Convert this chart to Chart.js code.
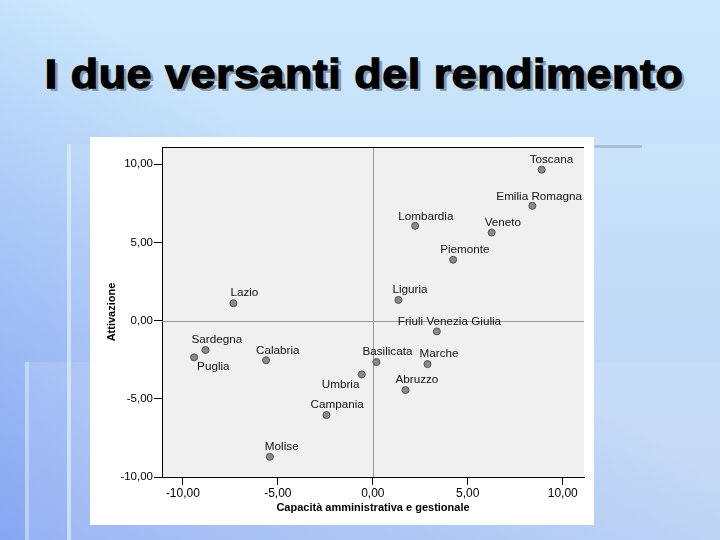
<!DOCTYPE html>
<html>
<head>
<meta charset="utf-8">
<script src="https://cdn.jsdelivr.net/npm/chart.js@4.4.0/dist/chart.umd.min.js"></script>
<style>
body { margin: 0; }
#slide {
	position: relative; width: 720px; height: 540px; overflow: hidden;
	background:
		linear-gradient(to top right, rgba(100,135,240,0.55) 0%, rgba(100,135,240,0) 55%),
		linear-gradient(#cbe8fc, #b3cef4);
}
#title {
	position: absolute; left: 0; top: 54px; width: 728px; text-align: center;
	font: bold 40px "Liberation Sans", Arial, sans-serif; line-height: 40px;
	letter-spacing: 0.5px; color: #000;
	-webkit-text-stroke: 1.3px #000;
	transform: scaleX(1.12); transform-origin: 364px 0;
	text-shadow: 3px 3px 0 #8a98a8;
}
.deco { position: absolute; }
#box { position: absolute; left: 90px; top: 137px; width: 504px; height: 388px; background: #fff; }
</style>
</head>
<body>
<div id="slide">
	<div class="deco" style="left:71px;top:144px;right:0;bottom:0;background:rgba(255,255,255,0.07)"></div>
	<div class="deco" style="left:67px;top:144px;width:4px;bottom:0;background:rgba(225,242,250,0.65)"></div>
	<div class="deco" style="left:25px;top:362px;right:0;bottom:0;background:rgba(255,255,255,0.12)"></div>
	<div class="deco" style="left:25px;top:362px;width:4px;bottom:0;background:rgba(225,242,250,0.45)"></div>
	<div class="deco" style="left:594px;top:145px;width:48px;height:3px;background:#a8c2d2"></div>
	<div id="title">I due versanti del rendimento</div>
	<div id="box"><canvas id="myChart" width="504" height="388"></canvas></div>
</div>
<script>
var regions = ["Toscana", "Emilia Romagna", "Lombardia", "Veneto", "Piemonte", "Liguria", "Lazio",
	"Friuli Venezia Giulia", "Sardegna", "Puglia", "Calabria", "Basilicata", "Marche", "Umbria",
	"Abruzzo", "Campania", "Molise"];
var capacita = [8.89, 8.40, 2.23, 6.26, 4.23, 1.35, -7.34, 3.37, -8.81, -9.41, -5.62, 0.19, 2.88, -0.58, 1.72, -2.44, -5.42];
var attivazione = [9.65, 7.34, 6.06, 5.63, 3.89, 1.32, 1.11, -0.69, -1.88, -2.35, -2.54, -2.65, -2.78, -3.44, -4.44, -6.04, -8.71];
var xTicks = [-10, -5, 0, 5, 10];
var yTicks = [-10, -5, 0, 5, 10];

// where each name sits relative to its dot (left edge, middle), like the SPSS output
var labelOffset = {
	"Toscana": [-12, -10], "Emilia Romagna": [-36, -9], "Lombardia": [-17, -9], "Veneto": [-7, -10],
	"Piemonte": [-13, -10], "Liguria": [-6, -10], "Lazio": [-3, -10], "Friuli Venezia Giulia": [-39, -10],
	"Sardegna": [-14, -10], "Puglia": [3, 9], "Calabria": [-10, -10], "Basilicata": [-14, -10],
	"Marche": [-8, -10], "Umbria": [-40, 10], "Abruzzo": [-10, -10], "Campania": [-16, -10], "Molise": [-5, -10]
};

var points = [];
for (var i = 0; i < regions.length; i++) {
	points.push({x: capacita[i], y: attivazione[i]});
}

function fmt(v) {
	return v.toFixed(2).replace('.', ',');
}

var spssPlugin = {
	id: 'spss',
	beforeDraw: function(chart) {
		var a = chart.chartArea, ctx = chart.ctx;
		ctx.save();
		ctx.fillStyle = '#f0f0f0';
		ctx.fillRect(a.left, a.top, a.right - a.left, a.bottom - a.top);
		ctx.restore();
	},
	beforeDatasetsDraw: function(chart) {
		var a = chart.chartArea, ctx = chart.ctx;
		var x0 = Math.round(chart.scales.x.getPixelForValue(0)) + 0.5;
		var y0 = Math.round(chart.scales.y.getPixelForValue(0)) + 0.5;
		ctx.save();
		ctx.strokeStyle = '#999';
		ctx.lineWidth = 1;
		ctx.beginPath();
		ctx.moveTo(x0, a.top); ctx.lineTo(x0, a.bottom);
		ctx.moveTo(a.left, y0); ctx.lineTo(a.right, y0);
		ctx.stroke();
		ctx.strokeStyle = '#000';
		ctx.beginPath();
		ctx.moveTo(a.left, a.top + 0.5); ctx.lineTo(a.right, a.top + 0.5);
		ctx.stroke();
		ctx.restore();
	},
	afterDatasetsDraw: function(chart) {
		var ctx = chart.ctx;
		var meta = chart.getDatasetMeta(0);
		ctx.save();
		ctx.font = '11.7px "Liberation Sans", Arial, sans-serif';
		ctx.fillStyle = '#111';
		ctx.textAlign = 'left';
		ctx.textBaseline = 'middle';
		meta.data.forEach(function(pt, i) {
			var off = labelOffset[regions[i]] || [-8, -10];
			ctx.fillText(regions[i], pt.x + off[0], pt.y + off[1]);
		});
		ctx.restore();
	}
};

window.onload = function() {
	var ctx = document.getElementById('myChart').getContext('2d');
	var chart = new Chart(ctx, {
		type: 'scatter',
		data: {
			datasets: [{
				label: 'Regioni',
				data: points,
				backgroundColor: '#8a8a8a',
				borderColor: '#505050',
				borderWidth: 1,
				pointRadius: 3.5
			}]
		},
		options: {
			responsive: false,
			animation: false,
			devicePixelRatio: 1,
			layout: { padding: { top: 10, right: 10, left: 0, bottom: 0 } },
			plugins: { legend: { display: false }, tooltip: { enabled: false } },
			scales: {
				x: {
					type: 'linear', min: -11.1, max: 11.12,
					afterBuildTicks: function(s) { s.ticks = xTicks.map(function(v) { return {value: v}; }); },
					afterFit: function(s) { s.height = 48; },
					grid: { drawOnChartArea: false, color: '#000', tickLength: 8 },
					border: { color: '#000' },
					ticks: { color: '#000', padding: 1, font: { family: '"Liberation Sans", Arial', size: 12 },
						callback: function(v) { return fmt(v); } },
					title: { display: true, text: 'Capacità amministrativa e gestionale', color: '#000',
						font: { family: '"Liberation Sans", Arial', size: 11, weight: 'bold' },
						padding: { top: 0, bottom: 10 } }
				},
				y: {
					type: 'linear', min: -10, max: 11.1,
					afterBuildTicks: function(s) { s.ticks = yTicks.map(function(v) { return {value: v}; }); },
					afterFit: function(s) { s.width = 72; },
					grid: { drawOnChartArea: false, color: '#000', tickLength: 8 },
					border: { color: '#000' },
					ticks: { color: '#000', padding: 1, font: { family: '"Liberation Sans", Arial', size: 11.5 },
						callback: function(v) { return fmt(v); } },
					title: { display: true, text: 'Attivazione', color: '#000',
						font: { family: '"Liberation Sans", Arial', size: 11, weight: 'bold' },
						padding: { top: 15, bottom: 0 } }
				}
			}
		},
		plugins: [spssPlugin]
	});
};
</script>
</body>
</html>
